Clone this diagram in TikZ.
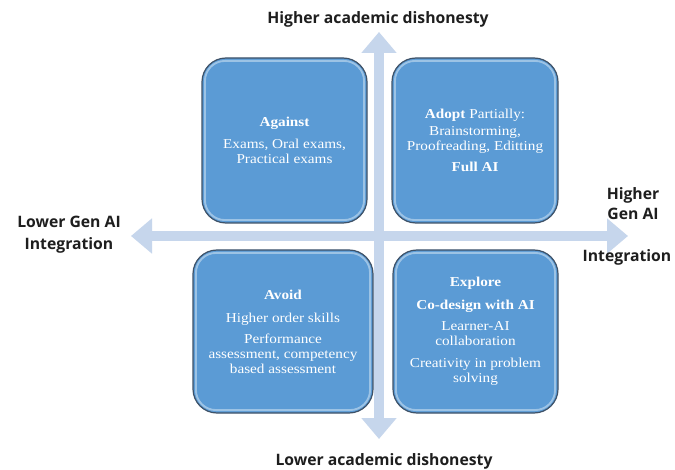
\documentclass[tikz,border=0pt]{standalone}
\usepackage{fontspec}
\setmainfont{Liberation Serif}[FakeStretch=1.12]
\newfontfamily\labelfont{Open Sans}
\usetikzlibrary{arrows.meta}

\definecolor{quadblue}{RGB}{91,155,213}
\definecolor{quadedge}{RGB}{62,82,104}
\definecolor{axisblue}{RGB}{198,214,236}
\definecolor{labelink}{RGB}{30,30,30}

\tikzset{
  quad/.style={
    rounded corners=18pt, fill=quadblue, draw=quadedge, line width=0.9pt,
    inner sep=0pt, align=center, text=white,
    font=\fontsize{10.2}{11.25}\selectfont,
    path picture={
      \draw[white, opacity=0.4, line width=1.4pt, rounded corners=15pt]
        ([shift={(2.2pt,2.2pt)}]path picture bounding box.south west)
        rectangle
        ([shift={(-2.2pt,-2.2pt)}]path picture bounding box.north east);
    }
  },
  axis/.style={
    draw=axisblue, line width=7.5pt,
    {Triangle[width=25.5pt,length=15.75pt]}-{Triangle[width=25.5pt,length=15.75pt]}
  },
  lbl/.style={
    text=labelink, inner sep=0pt,
    font=\labelfont\bfseries\fontsize{11.8}{16.5}\selectfont
  }
}

\begin{document}
\begin{tikzpicture}[x=0.75pt,y=-0.75pt]
  \useasboundingbox[fill=white] (0,0) rectangle (675,470);

  % axis end points
  \coordinate (vtop) at (379,32);
  \coordinate (vbot) at (379,439);
  \coordinate (hleft) at (131,236);
  \coordinate (hright) at (628,236);

  % the two double-headed axes
  \draw[axis] (vbot) -- (vtop);
  \draw[axis] (hleft) -- (hright);

  % quadrants
  \node[quad, minimum width=123.75pt, minimum height=123.75pt] (against) at (284.5,140.5)
    {\textbf{Against}\\[5pt]Exams, Oral exams,\\Practical exams};
  \node[quad, minimum width=124.5pt, minimum height=123.75pt] (adopt) at (475,140.5)
    {\textbf{Adopt} Partially:\\[1.5pt]Brainstorming,\\Proofreading, Editting\\[5pt]\textbf{Full AI}};
  \node[quad, minimum width=135pt, minimum height=122.25pt] (avoid) at (283,331.5)
    {\textbf{Avoid}\\[6pt]Higher order skills\\[4.5pt]Performance\\assessment, competency\\based assessment};
  \node[quad, minimum width=123.75pt, minimum height=122.25pt] (explore) at (475.5,331.5)
    {\textbf{Explore}\\[6pt]\textbf{Co-design with AI}\\[4.5pt]Learner-AI\\collaboration\\[5.5pt]Creativity in problem\\solving};

  % axis labels
  \node[lbl] (hidis) at (378,19) {Higher academic dishonesty};
  \node[lbl] (lodis) at (384,461) {Lower academic dishonesty};
  \node[lbl, align=center] (logen) at (69,235) {Lower Gen AI\\Integration};
  \node[lbl, align=center, font=\labelfont\bfseries\fontsize{11.8}{15}\selectfont] (higen) at (633,204) {Higher\\Gen AI};
  \node[lbl] (hiint) at (627,257) {Integration};
\end{tikzpicture}
\end{document}
